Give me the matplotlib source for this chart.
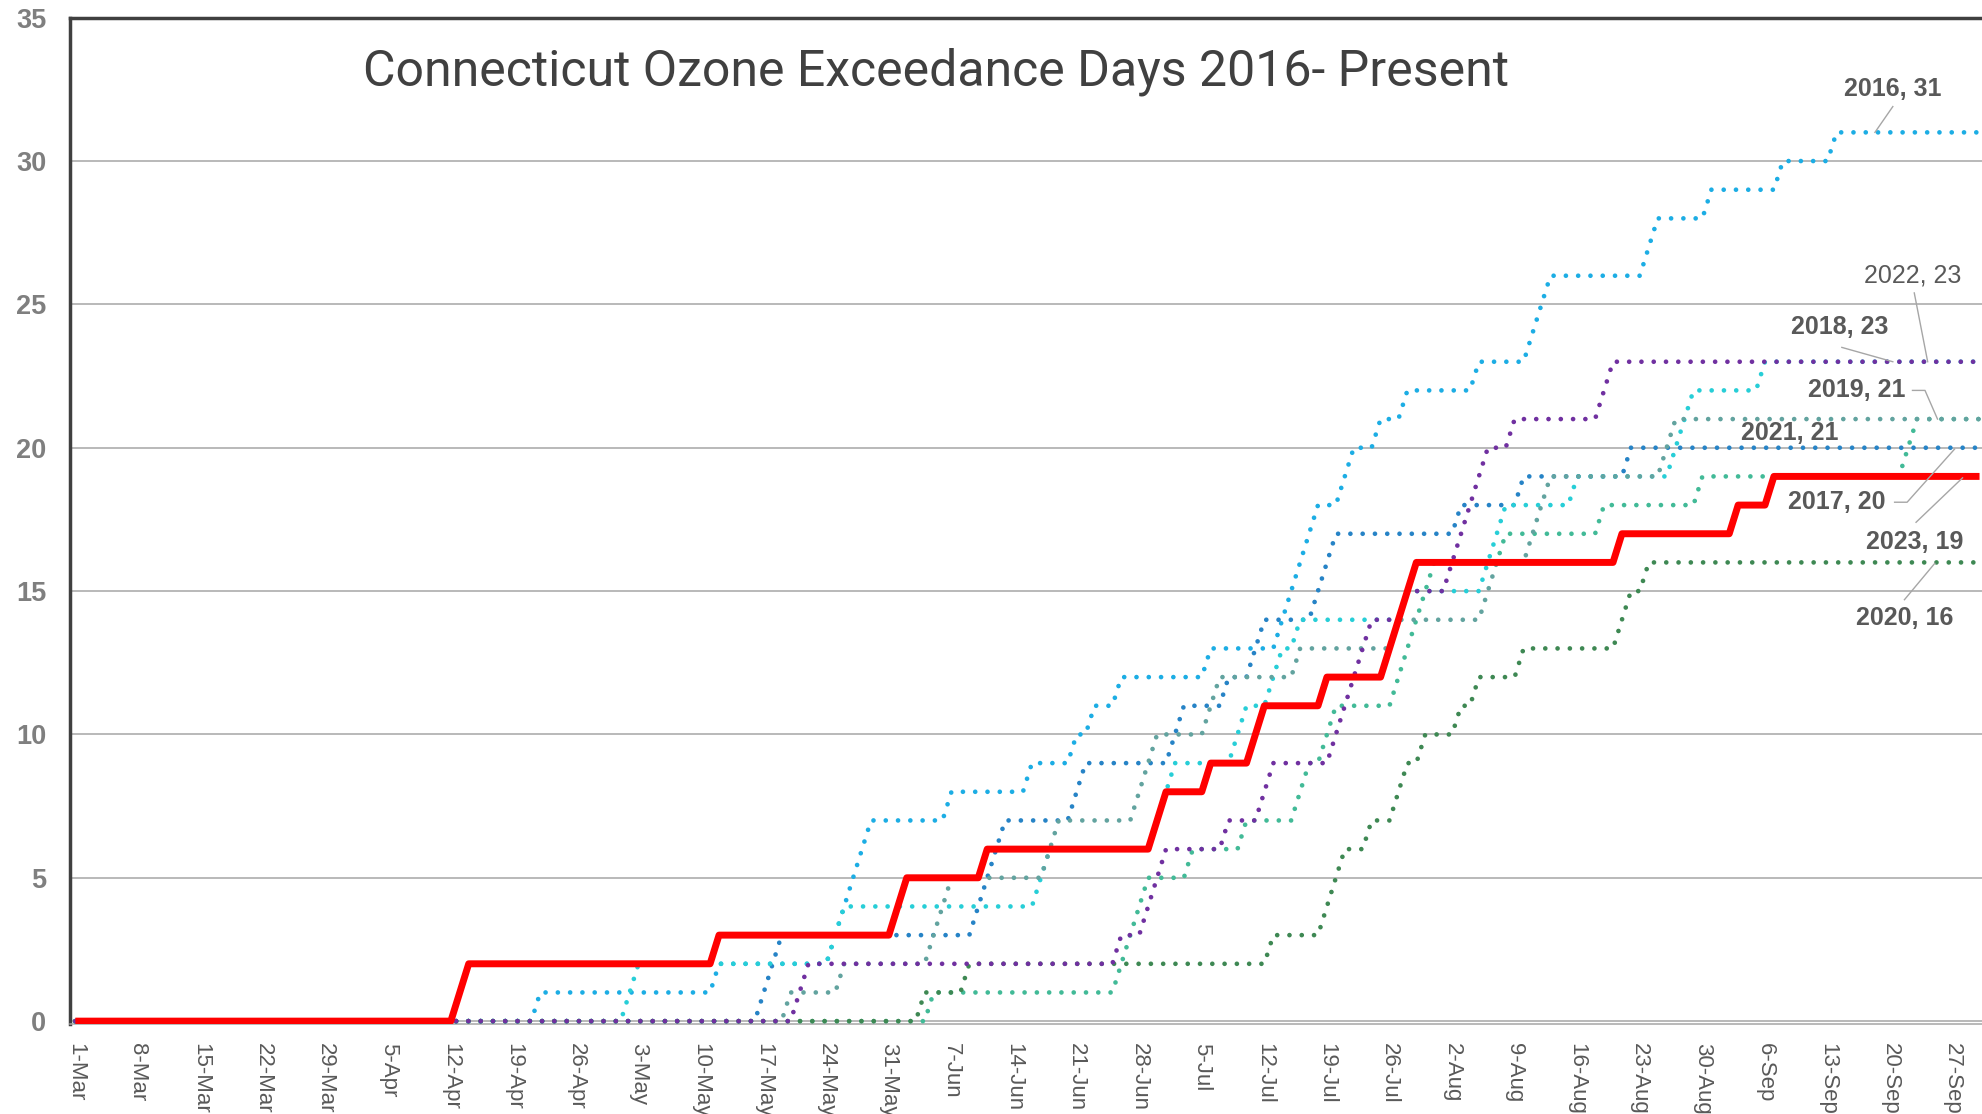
import numpy as np
import pandas as pd
import matplotlib
matplotlib.use("Agg")
import matplotlib.pyplot as plt

# season axis: 1-Mar .. 30-Sep, one point per day
season_start = pd.Timestamp("2023-03-01")
n_days = 214

# exceedance dates (MM-DD)
exceed_2016 = ["04-22", "05-12", "05-25", "05-26", "05-27", "05-28", "05-29", "06-07",
               "06-16", "06-21", "06-23", "06-26", "07-06", "07-14", "07-15", "07-16",
               "07-17", "07-18", "07-21", "07-22", "07-25", "07-28", "08-05", "08-11",
               "08-12", "08-13", "08-24", "08-25", "08-31", "09-08", "09-14"]
exceed_2017 = ["05-17", "05-18", "05-19", "06-10", "06-11", "06-12", "06-13", "06-21",
               "06-22", "07-02", "07-03", "07-08", "07-11", "07-12", "07-18", "07-19",
               "07-20", "08-03", "08-10", "08-22"]
exceed_2018 = ["05-21", "05-22", "06-26", "06-29", "06-30", "07-01", "07-08", "07-12",
               "07-13", "07-20", "07-21", "07-22", "07-23", "07-24", "07-28", "08-02",
               "08-03", "08-04", "08-05", "08-06", "08-09", "08-19", "08-20"]
exceed_2019 = ["05-20", "05-26", "06-05", "06-06", "06-07", "06-18", "06-19", "06-28",
               "06-29", "06-30", "07-06", "07-07", "07-16", "07-27", "08-06", "08-07",
               "08-11", "08-12", "08-13", "08-26", "08-27"]
exceed_2020 = ["06-04", "06-09", "07-13", "07-19", "07-20", "07-21", "07-24", "07-27",
               "07-28", "07-30", "08-03", "08-05", "08-10", "08-21", "08-22", "08-24"]
exceed_2021 = ["06-05", "06-26", "06-27", "06-28", "06-29", "07-04", "07-10", "07-16",
               "07-17", "07-19", "07-20", "07-27", "07-28", "07-29", "07-30", "07-31",
               "08-08", "08-19", "08-30", "09-22", "09-23"]
exceed_2022 = ["05-02", "05-03", "05-25", "05-26", "06-17", "06-18", "06-30", "07-01",
               "07-02", "07-09", "07-10", "07-13", "07-14", "07-16", "07-28", "08-06",
               "08-07", "08-08", "08-16", "08-27", "08-28", "08-29", "09-06"]
exceed_2023 = ["04-13", "04-14", "05-12", "06-01", "06-02", "06-11", "06-30", "07-01",
               "07-06", "07-11", "07-12", "07-19", "07-26", "07-27", "07-28", "07-29",
               "08-21", "09-03", "09-07"]

# drawing order, bottom to top (as stacked in the original)
years = ["2016", "2017", "2022", "2021", "2019", "2020", "2018", "2023"]
exceedances = [exceed_2016, exceed_2017, exceed_2022, exceed_2021,
               exceed_2019, exceed_2020, exceed_2018, exceed_2023]
colors = ["#1CADE4", "#2683C6", "#27CED7", "#42BA97", "#62A39F", "#3E8853", "#7030A0", "#FF0000"]

tick_labels = ["1-Mar", "8-Mar", "15-Mar", "22-Mar", "29-Mar", "5-Apr", "12-Apr", "19-Apr",
               "26-Apr", "3-May", "10-May", "17-May", "24-May", "31-May", "7-Jun", "14-Jun",
               "21-Jun", "28-Jun", "5-Jul", "12-Jul", "19-Jul", "26-Jul", "2-Aug", "9-Aug",
               "16-Aug", "23-Aug", "30-Aug", "6-Sep", "13-Sep", "20-Sep", "27-Sep"]

# end-of-line labels: text position, leader line (data coords)
label_pos = {
    "2016": ((203.3, 32.5), [(203.3, 31.9), (201.3, 31.0)]),
    "2022": ((205.5, 26.0), [(205.7, 25.4), (207.2, 23.0)]),
    "2018": ((197.4, 24.2), [(197.6, 23.5), (203.3, 23.0)]),
    "2019": ((199.3, 22.0), [(205.5, 22.0), (206.9, 22.0), (208.3, 21.0)]),
    "2021": ((191.8, 20.5), []),
    "2017": ((197.0, 18.1), [(203.5, 18.1), (204.9, 18.1), (210.2, 19.95)]),
    "2023": ((205.8, 16.7), [(205.9, 17.4), (211.1, 18.95)]),
    "2020": ((204.6, 14.05), [(204.6, 14.7), (208.0, 15.97)]),
}


def cumulative(dates):
    offs = np.array([(pd.Timestamp("2023-" + s) - season_start).days for s in dates])
    days = np.arange(n_days)
    counts = np.array([(offs <= d).sum() for d in days])
    return days, counts


W, H = 1982, 1114
fig = plt.figure(figsize=(W / 100, H / 100), dpi=100)
ax = fig.add_axes([70 / W, (H - 1024) / H, (1984 - 70) / W, (1024 - 17.7) / H])

finals = {}
for yr, ex, col in zip(years, exceedances, colors):
    x, y = cumulative(ex)
    finals[yr] = y[-1]
    if yr == "2023":
        ax.plot(x, y, color=col, lw=5, solid_joinstyle="round", solid_capstyle="butt", zorder=5)
    else:
        ax.plot(x, y, color=col, lw=3.4, linestyle=(0, (0.001, 2.6)),
                dash_capstyle="round", zorder=3)

ax.set_xlim(-0.6, 213.5)
ax.set_ylim(-0.1, 35)
ax.set_yticks(np.arange(0, 36, 5))
ax.set_xticks(np.arange(0, 211, 7))
ax.set_xticklabels(tick_labels, rotation=-90, fontsize=16, color="#595959",
                   family=["Liberation Sans", "DejaVu Sans"])
for lab in ax.get_yticklabels():
    lab.set_fontsize(19.5)
    lab.set_fontweight("bold")
    lab.set_color("#7F7F7F")
    lab.set_family(["Liberation Sans Narrow", "Liberation Sans", "DejaVu Sans"])
ax.tick_params(axis="both", length=0)
ax.tick_params(axis="x", pad=14)
ax.tick_params(axis="y", pad=17)

ax.grid(axis="y", color="#A6A6A6", lw=1.1, zorder=1)
ax.set_axisbelow(True)
ax.spines["right"].set_visible(False)
ax.spines["left"].set_color("#404040")
ax.spines["left"].set_linewidth(2.5)
ax.spines["top"].set_color("#404040")
ax.spines["top"].set_linewidth(2.5)
ax.spines["bottom"].set_color("#A6A6A6")
ax.spines["bottom"].set_linewidth(1.1)

ax.text(96.3, 33.12, "Connecticut Ozone Exceedance Days 2016- Present", ha="center", va="center",
        fontsize=36, color="#404040", family=["Roboto", "DejaVu Sans"])

for yr, ((tx, ty), leader) in label_pos.items():
    weight = "normal" if yr == "2022" else "bold"
    ax.text(tx, ty, f"{yr}, {finals[yr]}", ha="center", va="center", fontsize=18,
            fontweight=weight, color="#595959", family=["Liberation Sans", "DejaVu Sans"], zorder=6)
    if leader:
        lx, ly = zip(*leader)
        ax.plot(lx, ly, color="#A6A6A6", lw=1.0, zorder=6)

fig.savefig("out.png", dpi=100)
